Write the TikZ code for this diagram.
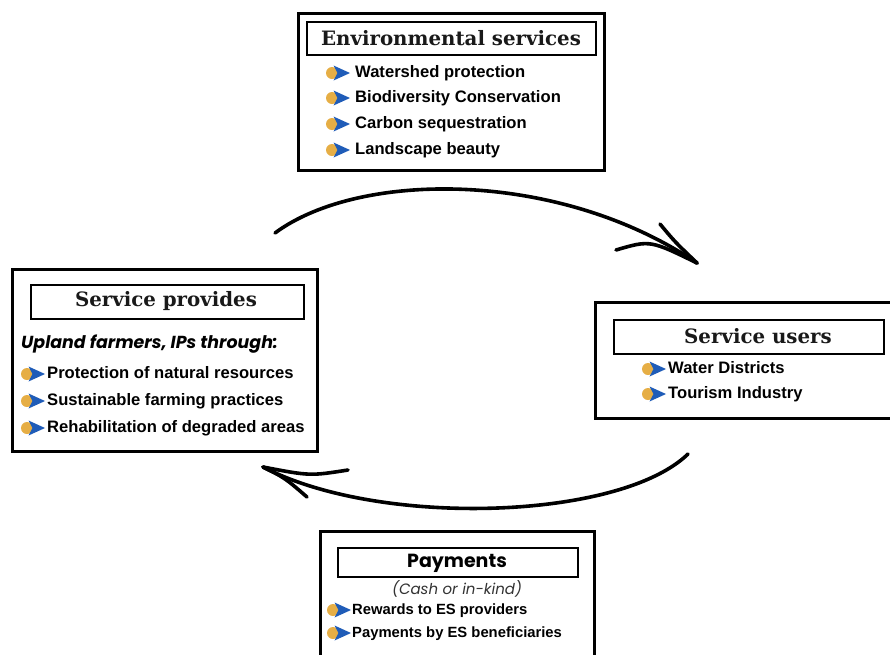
\documentclass[tikz,border=0pt]{standalone}
\usepackage{fontspec}
\setmainfont{Liberation Sans}
\newfontfamily\titleserif{DejaVu Serif}
\newfontfamily\pop{Poppins}
\definecolor{bulorange}{HTML}{E6AE45}
\definecolor{bulblue}{HTML}{1F5CB8}
\begin{document}
\begin{tikzpicture}[x=1pt,y=-1pt,
  outerbox/.style={draw=black,line width=3pt,fill=white},
  titlebox/.style={draw=black,line width=1.4pt,fill=white},
  titletext/.style={font=\titleserif\bfseries\fontsize{19.8}{22}\selectfont,text=black!90},
  itemtext/.style={anchor=west,inner sep=0pt,font=\bfseries\fontsize{16.6}{19}\selectfont,text height=1.22em,text depth=0.25em},
  smallitem/.style={itemtext,font=\bfseries\fontsize{14.8}{17}\selectfont},
  bigarrow/.style={line width=3.6pt,line cap=round,line join=round},
  bul/.pic={\fill[bulorange] (0,0) circle (6);
            \fill[bulblue] (1.5,-7.5) -- (18,0) -- (1.5,7.5) -- (5.5,0) -- cycle;}
]
\useasboundingbox (0,0) rectangle (890,654);
\fill[white] (0,0) rectangle (890,654);

% Environmental services
\draw[outerbox] (298,13) rectangle (604,170);
\draw[titlebox] (307,22) rectangle (596,55);
\node[titletext] (envtitle) at (451,38.5) {Environmental services};
\foreach \t/\y/\n in {Watershed protection/73/1,Biodiversity Conservation/98/2,Carbon sequestration/124/3,Landscape beauty/150/4}{
  \pic at (332,\y) {bul};
  \node[itemtext] (env\n) at (355,\y) {\t};
}

% Service provides
\draw[outerbox] (12,269) rectangle (317,451);
\draw[titlebox] (31,285) rectangle (304,319);
\node[titletext] (provtitle) at (166,301.5) {Service provides};
\node[anchor=west,inner sep=0pt,font=\pop\bfseries\itshape\fontsize{17.4}{20}\selectfont] (provsub) at (21,344) {Upland farmers, IPs through:};
\foreach \t/\y/\n in {Protection of natural resources/374/1,Sustainable farming practices/401/2,Rehabilitation of degraded areas/428/3}{
  \pic at (27,\y) {bul};
  \node[itemtext] (prov\n) at (47,\y) {\t};
}

% Service users
\draw[outerbox] (595,302) rectangle (893,418);
\draw[titlebox] (614,320) rectangle (884,354);
\node[titletext] (usetitle) at (758,336.5) {Service users};
\foreach \t/\y/\n in {Water Districts/369/1,Tourism Industry/394/2}{
  \pic at (648,\y) {bul};
  \node[itemtext] (use\n) at (668,\y) {\t};
}

% Payments
\draw[outerbox] (320,531) rectangle (594,660);
\draw[titlebox] (338,548) rectangle (578,577);
\node[font=\pop\bfseries\fontsize{19}{22}\selectfont] (paytitle) at (457,563) {Payments};
\node[font=\pop\itshape\fontsize{15}{18}\selectfont,text=black!80] (paysub) at (457,589) {(Cash or in-kind)};
\foreach \t/\y/\n in {Rewards to ES providers/610/1,Payments by ES beneficiaries/633/2}{
  \pic at (333,\y) {bul};
  \node[smallitem] (pay\n) at (352,\y) {\t};
}

% Arrows
\coordinate (a1s) at (275,233);
\coordinate (a1t) at (697,263);
\coordinate (a1u) at (660,224);
\coordinate (a1l) at (616,250);
\draw[bigarrow] (a1s) .. controls (360,170) and (560,170) .. (a1t);
\draw[bigarrow] (a1u) .. controls (675,242) .. (a1t);
\draw[bigarrow] (a1l) .. controls (650,240) .. (a1t);

\coordinate (a2s) at (688,454);
\coordinate (a2t) at (263,467);
\coordinate (a2u) at (348,470);
\coordinate (a2l) at (307,497);
\draw[bigarrow] (a2s) .. controls (620,520) and (380,528) .. (a2t);
\draw[bigarrow] (a2u) .. controls (310,476) .. (a2t);
\draw[bigarrow] (a2l) .. controls (285,478) .. (a2t);
\end{tikzpicture}
\end{document}
